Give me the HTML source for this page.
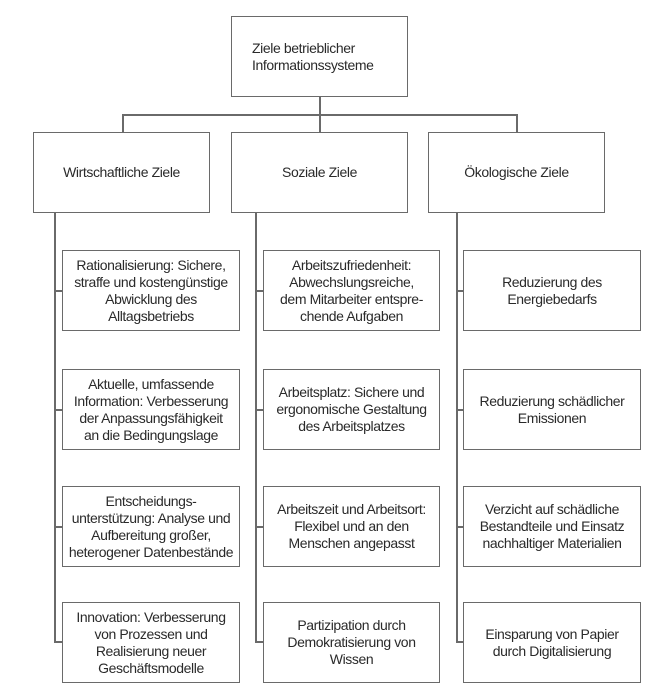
<!DOCTYPE html>
<html><head><meta charset="utf-8"><style>
body{margin:0;background:#fff;width:664px;height:698px;position:relative;overflow:hidden;font-family:"Liberation Sans",sans-serif;color:#2a2a2a}
.b{position:absolute;border:1.5px solid #6a6a6a;box-sizing:border-box;display:flex;align-items:center;justify-content:center;text-align:center;font-size:14px;line-height:17px;letter-spacing:-0.4px;background:#fff;white-space:nowrap}
.l{position:absolute;background:#6a6a6a}
</style></head><body>
<div class="l" style="left:319px;top:97px;width:1.5px;height:35px"></div>
<div class="l" style="left:122px;top:114px;width:395px;height:1.5px"></div>
<div class="l" style="left:122px;top:114px;width:1.5px;height:18px"></div>
<div class="l" style="left:516px;top:114px;width:1.5px;height:18px"></div>
<div class="b" style="left:231px;top:16px;width:177px;height:81px;text-align:left;justify-content:flex-start;padding-left:20px">Ziele betrieblicher<br>Informationssysteme</div>
<div class="b" style="left:33px;top:132px;width:177px;height:81px">Wirtschaftliche Ziele</div>
<div class="b" style="left:231px;top:132px;width:177px;height:81px">Soziale Ziele</div>
<div class="b" style="left:428px;top:132px;width:177px;height:81px">Ökologische Ziele</div>

<div class="l" style="left:54px;top:213px;width:1.5px;height:429px"></div>
<div class="l" style="left:255px;top:213px;width:1.5px;height:429px"></div>
<div class="l" style="left:456px;top:213px;width:1.5px;height:429px"></div>
<div class="l" style="left:54px;top:290px;width:8px;height:1.5px"></div>
<div class="l" style="left:54px;top:409px;width:8px;height:1.5px"></div>
<div class="l" style="left:54px;top:526px;width:8px;height:1.5px"></div>
<div class="l" style="left:54px;top:641px;width:8px;height:1.5px"></div>
<div class="l" style="left:255px;top:290px;width:8px;height:1.5px"></div>
<div class="l" style="left:255px;top:409px;width:8px;height:1.5px"></div>
<div class="l" style="left:255px;top:526px;width:8px;height:1.5px"></div>
<div class="l" style="left:255px;top:641px;width:8px;height:1.5px"></div>
<div class="l" style="left:456px;top:290px;width:8px;height:1.5px"></div>
<div class="l" style="left:456px;top:409px;width:8px;height:1.5px"></div>
<div class="l" style="left:456px;top:526px;width:8px;height:1.5px"></div>
<div class="l" style="left:456px;top:641px;width:8px;height:1.5px"></div>

<div class="b" style="left:62px;top:250px;width:178px;height:81px">Rationalisierung: Sichere,<br>straffe und kostengünstige<br>Abwicklung des<br>Alltagsbetriebs</div>
<div class="b" style="left:62px;top:369px;width:178px;height:81px">Aktuelle, umfassende<br>Information: Verbesserung<br>der Anpassungsfähigkeit<br>an die Bedingungslage</div>
<div class="b" style="left:62px;top:486px;width:178px;height:81px">Entscheidungs-<br>unterstützung: Analyse und<br>Aufbereitung großer,<br>heterogener Datenbestände</div>
<div class="b" style="left:62px;top:602px;width:178px;height:81px">Innovation: Verbesserung<br>von Prozessen und<br>Realisierung neuer<br>Geschäftsmodelle</div>

<div class="b" style="left:263px;top:250px;width:177px;height:81px">Arbeitszufriedenheit:<br>Abwechslungsreiche,<br>dem Mitarbeiter entspre-<br>chende Aufgaben</div>
<div class="b" style="left:263px;top:369px;width:177px;height:81px">Arbeitsplatz: Sichere und<br>ergonomische Gestaltung<br>des Arbeitsplatzes</div>
<div class="b" style="left:263px;top:486px;width:177px;height:81px">Arbeitszeit und Arbeitsort:<br>Flexibel und an den<br>Menschen angepasst</div>
<div class="b" style="left:263px;top:602px;width:177px;height:81px">Partizipation durch<br>Demokratisierung von<br>Wissen</div>

<div class="b" style="left:463px;top:250px;width:178px;height:81px">Reduzierung des<br>Energiebedarfs</div>
<div class="b" style="left:463px;top:369px;width:178px;height:81px">Reduzierung schädlicher<br>Emissionen</div>
<div class="b" style="left:463px;top:486px;width:178px;height:81px">Verzicht auf schädliche<br>Bestandteile und Einsatz<br>nachhaltiger Materialien</div>
<div class="b" style="left:463px;top:602px;width:178px;height:81px">Einsparung von Papier<br>durch Digitalisierung</div>
</body></html>
